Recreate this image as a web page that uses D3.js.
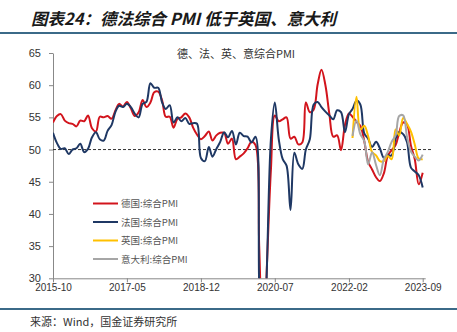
<!DOCTYPE html>
<html><head><meta charset="utf-8">
<script src="https://cdn.jsdelivr.net/npm/d3@7"></script>
<style>body{margin:0;background:#fff}svg{display:block}</style>
</head><body>
<svg id="c" width="457" height="332"></svg>
<script>
const startMonth = "2015-10";
const germany = [54.2,55.2,55.5,
 54.5,54.1,54.0,53.6,54.5,54.4,55.3,53.3,52.8,55.1,55.0,55.2,
 54.8,56.1,57.1,56.7,57.4,56.4,55.2,55.8,57.7,56.6,57.3,58.9,
 59.0,57.6,55.1,55.1,53.4,54.8,55.0,55.6,55.0,53.4,52.3,51.6,
 52.1,52.8,51.4,52.2,52.6,52.6,50.9,51.7,48.5,48.9,49.4,50.2,
 51.2,50.7,35.0,17.4,32.3,47.0,55.3,54.4,54.7,55.0,51.7,52.0,
 50.8,51.1,57.3,55.8,56.2,60.1,62.4,60.0,55.5,52.0,52.2,49.9,
 53.8,55.6,55.1,54.3,53.7,51.3,48.1,46.9,45.7,45.1,46.3,49.0,
 49.9,50.7,52.6,54.2,53.9,50.6,48.5,44.6,46.4];
const france = [52.6,51.0,50.1,
 50.2,49.3,50.0,50.2,50.9,49.6,50.1,51.9,52.7,51.6,51.4,52.9,
 53.8,55.9,56.8,56.6,57.1,56.6,55.6,55.0,57.1,57.4,60.3,59.6,
 59.6,57.3,56.3,56.9,54.2,55.0,54.4,54.9,54.0,54.1,54.0,48.7,
 48.2,50.4,48.9,50.1,51.2,52.7,51.9,52.9,50.8,52.6,52.1,52.0,
 51.1,52.0,28.9,11.1,32.1,51.7,57.3,51.6,48.5,47.5,40.6,49.5,
 47.7,47.0,50.0,51.6,57.0,57.4,56.6,55.9,55.3,54.7,56.1,55.8,
 52.7,55.5,56.3,57.6,57.0,52.5,51.7,50.4,51.2,50.2,48.7,49.1,
 49.1,51.7,52.7,52.4,51.2,47.2,46.6,46.0,44.1];
const ukStart = "2022-03";
const uk = [51.8,58.2,53.1,53.7,52.1,49.6,49.1,48.2,48.2,49.0,48.5,53.1,52.2,54.9,54.0,52.8,50.8,48.6,48.5];
const italyStart = "2022-03";
const italy = [52.1,54.5,52.4,51.3,47.7,49.6,47.6,46.0,48.5,49.6,51.2,52.2,55.2,55.3,52.0,49.7,48.9,48.3,49.2];
const seriesNames = ["德国:综合PMI","法国:综合PMI","英国:综合PMI","意大利:综合PMI"];
const seriesColors = ["#d2141c","#1f3864","#ffc000","#a6a6a6"];
const xTickLabels = ["2015-10","2017-05","2018-12","2020-07","2022-02","2023-09"];
const yTicks = [30,35,40,45,50,55,60,65];
const chartTitle = "德、法、英、意综合PMI";
const figTitle = "图表24：德法综合 PMI 低于英国、意大利";
const source = "来源：Wind，国金证券研究所";

const parse = d3.timeParse("%Y-%m");
function toPoints(start, vals){
  const s = parse(start);
  return vals.map((v,i)=>({date:d3.timeMonth.offset(s,i), v}));
}
const data = [toPoints(startMonth,germany), toPoints(startMonth,france), toPoints(ukStart,uk), toPoints(italyStart,italy)];

const svg = d3.select("#c");
const L=53, R=422.7, T=53, B=278.3;
const x = d3.scaleTime().domain([parse("2015-10"), parse("2023-09")]).range([L,R]);
const y = d3.scaleLinear().domain([30,65]).range([B,T]);

// header
svg.append("text").attr("x",31).attr("y",25).attr("font-family","Noto Sans CJK SC").attr("font-weight","bold")
  .attr("font-style","italic").attr("font-size",16.5).attr("fill","#1a1a1a").text(figTitle);
svg.append("line").attr("x1",0).attr("x2",457).attr("y1",33).attr("y2",33).attr("stroke","#3b6a88").attr("stroke-width",2);
svg.append("line").attr("x1",0).attr("x2",457).attr("y1",309).attr("y2",309).attr("stroke","#3b6a88").attr("stroke-width",2);
svg.append("text").attr("x",30).attr("y",326).attr("font-family","Noto Sans CJK SC").attr("font-size",11).attr("fill","#333").text(source);

svg.append("text").attr("x",236).attr("y",58).attr("text-anchor","middle").attr("font-family","Noto Sans CJK SC")
  .attr("font-size",11).attr("fill","#333").text(chartTitle);

// axes
const yAxis = svg.append("g").attr("transform",`translate(${L},0)`)
  .call(d3.axisLeft(y).tickValues(yTicks).tickSize(4).tickSizeOuter(0).tickPadding(8));
yAxis.select(".domain").attr("stroke","#888");
yAxis.selectAll(".tick line").attr("stroke","#888");
yAxis.selectAll("text").attr("font-family","Liberation Sans, Arial").attr("font-size",11).attr("fill","#333");

const xAxis = svg.append("g").attr("transform",`translate(0,${B})`)
  .call(d3.axisBottom(x).tickValues(xTickLabels.map(parse)).tickFormat(d3.timeFormat("%Y-%m")).tickSize(4).tickSizeOuter(0).tickPadding(2));
xAxis.select(".domain").attr("stroke","#888").attr("d",`M${L},0.5H${R+3}`);
xAxis.selectAll(".tick line").attr("stroke","#888");
xAxis.selectAll("text").attr("font-family","Liberation Sans, Arial").attr("font-size",10).attr("fill","#333");

// clip
svg.append("clipPath").attr("id","clip").append("rect").attr("x",L).attr("y",0).attr("width",420).attr("height",B);

// 50 reference line
svg.append("line").attr("x1",L).attr("x2",432).attr("y1",y(50)).attr("y2",y(50))
  .attr("stroke","#333").attr("stroke-width",1).attr("stroke-dasharray","3,2");

const line = d3.line().x(d=>x(d.date)).y(d=>y(d.v)).curve(d3.curveCatmullRom.alpha(0.5));
const g = svg.append("g").attr("clip-path","url(#clip)");
data.forEach((pts,i)=>{
  g.append("path").attr("d",line(pts)).attr("fill","none").attr("stroke",seriesColors[i]).attr("stroke-width",2);
});

// legend
const legY = [203.5,222,240.5,259];
seriesNames.forEach((n,i)=>{
  svg.append("line").attr("x1",93).attr("x2",118).attr("y1",legY[i]).attr("y2",legY[i]).attr("stroke",seriesColors[i]).attr("stroke-width",2);
  svg.append("text").attr("x",121).attr("y",legY[i]+3.5).attr("font-family","Noto Sans CJK SC, Liberation Sans").attr("font-size",9.5).attr("fill","#555").text(n);
});
</script>
</body></html>
